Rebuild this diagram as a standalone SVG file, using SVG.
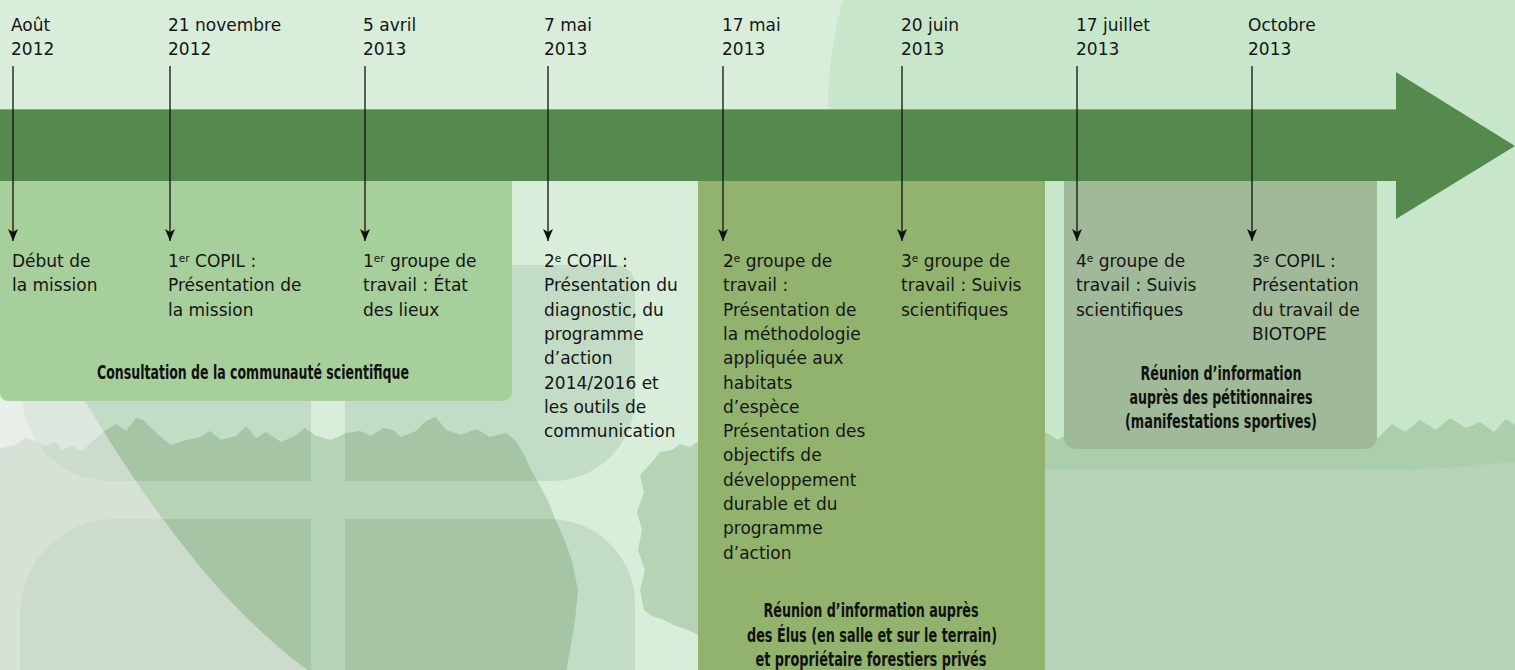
<svg xmlns="http://www.w3.org/2000/svg" width="1515" height="670" viewBox="0 0 1515 670">
<defs>
<style>
.t{font-family:"DejaVu Sans","Liberation Sans",sans-serif;font-size:17px;fill:#151515}
.sup{font-size:10.5px}
.cap{font-family:"Liberation Sans Narrow","DejaVu Sans Condensed","Liberation Sans",sans-serif;font-weight:bold;font-size:19px;fill:#111;text-anchor:middle}
.conn{stroke:#111;stroke-width:1.3;fill:none;marker-end:url(#ah)}
.quad{fill:#286428;fill-opacity:0.12}
.tree{fill:#b7d3b6}
</style>
<marker id="ah" viewBox="0 0 12 10" refX="12" refY="5" markerWidth="12" markerHeight="10" markerUnits="userSpaceOnUse" orient="auto">
<path d="M0,0 L12,5 L0,10 L3,5 Z" fill="#111"/>
</marker>
</defs>

<g id="background">
<rect x="0" y="0" width="1515" height="670" fill="#d9eddb"/>
<path class="tree" d="M0,448 L15,445 L25,438 L35,441 L45,446 L55,442 L62,450 L72,446 L82,451 L94,440 L106,430 L116,424 L126,431 L136,418 L143,420 L151,428 L161,437 L171,445 L186,440 L200,437 L210,431 L221,440 L236,436 L246,426 L256,438 L266,432 L281,442 L295,436 L305,428 L316,436 L331,440 L346,433 L360,431 L371,436 L383,428 L393,430 L401,437 L416,431 L426,421 L436,417 L446,430 L461,435 L476,429 L490,437 L506,433 L516,441 L523,453 L531,470 L540,486 L548,501 L556,521 L565,541 L572,561 L578,590 L575,620 L570,650 L566,672 L0,672 Z"/>
<path class="tree" d="M644,610 L640,590 L645,570 L638,550 L642,530 L637,512 L644,492 L640,475 L652,462 L660,452 L672,450 L680,444 L690,447 L700,440 L700,636 L688,630 L676,626 L664,620 L652,616 Z"/>
<path class="tree" d="M1045,432 L1058,440 L1072,431 L1086,444 L1100,436 L1115,446 L1130,438 L1300,440 L1330,434 L1345,442 L1362,430 L1378,438 L1392,424 L1405,432 L1420,420 L1436,430 L1450,418 L1466,428 L1480,422 L1494,432 L1506,419 L1515,425 L1515,672 L1045,672 Z"/>
<path d="M828,470 L828,110 A411,411 0 0 1 1239,-301 L1780,-301 L1780,320 A400,150 0 0 1 1380,470 Z" fill="#5ab45a" fill-opacity="0.125"/>
<path class="quad" d="M22,200 L311,200 L311,481 L110,481 A88,88 0 0 1 22,393 Z"/>
<path class="quad" d="M345,265 L615,265 A20,20 0 0 1 635,285 L635,398 A83,83 0 0 1 552,481 L345,481 Z"/>
<path class="quad" d="M20,700 L20,614 A95,95 0 0 1 115,519 L311,519 L311,700 Z"/>
<path class="quad" d="M345,519 L550,519 A85,85 0 0 1 635,604 L635,700 L345,700 Z"/>
<path d="M0,385 L76,385 L85,401 C110,442 135,482 163,519 C195,562 240,620 310,672 L0,672 Z" fill="#f5f2f5" fill-opacity="0.5"/>
</g>

<g id="phase-consultation">
<path d="M0,181 L512,181 L512,391 A10,10 0 0 1 502,401 L8,401 A8,8 0 0 1 0,393 Z" fill="#a6cf9b"/>
<text class="cap" x="253" y="379" textLength="312" lengthAdjust="spacingAndGlyphs">Consultation de la communauté scientifique</text>
</g>

<g id="phase-elus">
<rect x="698" y="181" width="347" height="495" fill="#92b36e"/>
<text class="cap" x="871" y="617" textLength="215" lengthAdjust="spacingAndGlyphs">Réunion d’information auprès</text>
<text class="cap" x="872" y="642" textLength="250" lengthAdjust="spacingAndGlyphs">des Élus (en salle et sur le terrain)</text>
<text class="cap" x="871" y="666" textLength="231" lengthAdjust="spacingAndGlyphs">et propriétaire forestiers privés</text>
</g>

<g id="phase-petitionnaires">
<path d="M1064,181 L1377,181 L1377,437 A12,12 0 0 1 1365,449 L1076,449 A12,12 0 0 1 1064,437 Z" fill="#a0b998"/>
<text class="cap" x="1221" y="380" textLength="161" lengthAdjust="spacingAndGlyphs">Réunion d’information</text>
<text class="cap" x="1221" y="404" textLength="183" lengthAdjust="spacingAndGlyphs">auprès des pétitionnaires</text>
<text class="cap" x="1221" y="428" textLength="192" lengthAdjust="spacingAndGlyphs">(manifestations sportives)</text>
</g>

<g id="timeline-arrow">
<path d="M0,109 L1396,109 L1396,72 L1515,146 L1396,219 L1396,181 L0,181 Z" fill="#558a4f"/>
<line x1="0" y1="109.5" x2="1396" y2="109.5" stroke="#7fae79" stroke-width="1"/>
</g>

<g id="connectors">
<line class="conn" x1="13" y1="66" x2="13" y2="241"/>
<line class="conn" x1="170" y1="66" x2="170" y2="241"/>
<line class="conn" x1="365" y1="66" x2="365" y2="241"/>
<line class="conn" x1="548" y1="66" x2="548" y2="241"/>
<line class="conn" x1="723" y1="66" x2="723" y2="241"/>
<line class="conn" x1="902" y1="66" x2="902" y2="241"/>
<line class="conn" x1="1077" y1="66" x2="1077" y2="241"/>
<line class="conn" x1="1252" y1="66" x2="1252" y2="241"/>
</g>

<g id="event-aout-2012">
<text class="t" x="11" y="31">Août<tspan x="11" dy="24">2012</tspan></text>
<text class="t" x="12" y="267">Début de<tspan x="12" dy="24.3">la mission</tspan></text>
</g>

<g id="event-21-novembre-2012">
<text class="t" x="168" y="31">21 novembre<tspan x="168" dy="24">2012</tspan></text>
<text class="t" x="168" y="267">1<tspan class="sup" dy="-5">er</tspan><tspan dy="5"> COPIL :</tspan><tspan x="168" dy="24.3">Présentation de</tspan><tspan x="168" dy="24.3">la mission</tspan></text>
</g>

<g id="event-5-avril-2013">
<text class="t" x="363" y="31">5 avril<tspan x="363" dy="24">2013</tspan></text>
<text class="t" x="363" y="267">1<tspan class="sup" dy="-5">er</tspan><tspan dy="5"> groupe de</tspan><tspan x="363" dy="24.3">travail : État</tspan><tspan x="363" dy="24.3">des lieux</tspan></text>
</g>

<g id="event-7-mai-2013">
<text class="t" x="544" y="31">7 mai<tspan x="544" dy="24">2013</tspan></text>
<text class="t" x="544" y="267">2<tspan class="sup" dy="-5">e</tspan><tspan dy="5"> COPIL :</tspan><tspan x="544" dy="24.3">Présentation du</tspan><tspan x="544" dy="24.3">diagnostic, du</tspan><tspan x="544" dy="24.3">programme</tspan><tspan x="544" dy="24.3">d’action</tspan><tspan x="544" dy="24.3">2014/2016 et</tspan><tspan x="544" dy="24.3">les outils de</tspan><tspan x="544" dy="24.3">communication</tspan></text>
</g>

<g id="event-17-mai-2013">
<text class="t" x="722" y="31">17 mai<tspan x="722" dy="24">2013</tspan></text>
<text class="t" x="723" y="267">2<tspan class="sup" dy="-5">e</tspan><tspan dy="5"> groupe de</tspan><tspan x="723" dy="24.3">travail :</tspan><tspan x="723" dy="24.3">Présentation de</tspan><tspan x="723" dy="24.3">la méthodologie</tspan><tspan x="723" dy="24.3">appliquée aux</tspan><tspan x="723" dy="24.3">habitats</tspan><tspan x="723" dy="24.3">d’espèce</tspan><tspan x="723" dy="24.3">Présentation des</tspan><tspan x="723" dy="24.3">objectifs de</tspan><tspan x="723" dy="24.3">développement</tspan><tspan x="723" dy="24.3">durable et du</tspan><tspan x="723" dy="24.3">programme</tspan><tspan x="723" dy="24.3">d’action</tspan></text>
</g>

<g id="event-20-juin-2013">
<text class="t" x="901" y="31">20 juin<tspan x="901" dy="24">2013</tspan></text>
<text class="t" x="901" y="267">3<tspan class="sup" dy="-5">e</tspan><tspan dy="5"> groupe de</tspan><tspan x="901" dy="24.3">travail : Suivis</tspan><tspan x="901" dy="24.3">scientifiques</tspan></text>
</g>

<g id="event-17-juillet-2013">
<text class="t" x="1076" y="31">17 juillet<tspan x="1076" dy="24">2013</tspan></text>
<text class="t" x="1076" y="267">4<tspan class="sup" dy="-5">e</tspan><tspan dy="5"> groupe de</tspan><tspan x="1076" dy="24.3">travail : Suivis</tspan><tspan x="1076" dy="24.3">scientifiques</tspan></text>
</g>

<g id="event-octobre-2013">
<text class="t" x="1248" y="31">Octobre<tspan x="1248" dy="24">2013</tspan></text>
<text class="t" x="1252" y="267">3<tspan class="sup" dy="-5">e</tspan><tspan dy="5"> COPIL :</tspan><tspan x="1252" dy="24.3">Présentation</tspan><tspan x="1252" dy="24.3">du travail de</tspan><tspan x="1252" dy="24.3">BIOTOPE</tspan></text>
</g>
</svg>
